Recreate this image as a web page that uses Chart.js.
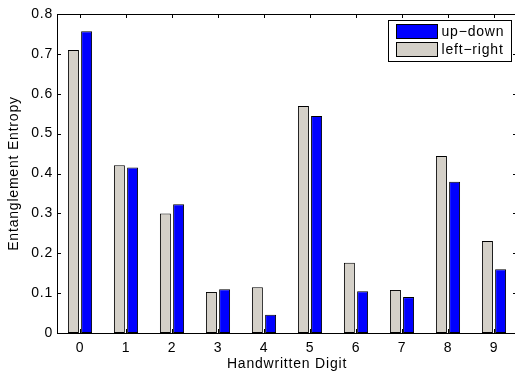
<!DOCTYPE html>
<html>
<head>
<meta charset="utf-8">
<script src="https://cdn.jsdelivr.net/npm/chart.js@4/dist/chart.umd.min.js"></script>
<style>
  html, body { margin: 0; padding: 0; background: #fff; overflow: hidden; }
  canvas { display: block; }
</style>
</head>
<body>
<canvas id="c" width="520" height="375"></canvas>
<script>
// Handwritten digits and the entanglement entropy of each bipartition
const digits = ['0', '1', '2', '3', '4', '5', '6', '7', '8', '9'];
const leftRight = [0.710, 0.421, 0.300, 0.103, 0.115, 0.569, 0.176, 0.108, 0.444, 0.231];
const upDown    = [0.757, 0.415, 0.323, 0.110, 0.046, 0.544, 0.105, 0.090, 0.379, 0.160];
const yTickLabels = ['0', '0.1', '0.2', '0.3', '0.4', '0.5', '0.6', '0.7', '0.8'];

const FONT = '"Liberation Sans", Arial, Helvetica, sans-serif';
const SIZE = 14;
const GREY = 'rgb(212,208,200)';
const BLUE = 'rgb(0,0,255)';
const SPACING = '0.8px';

// Slightly tracked-out lettering for all text on the canvas
const tracking = {
  id: 'tracking',
  beforeInit(chart) { chart.ctx.letterSpacing = SPACING; },
  beforeLayout(chart) { chart.ctx.letterSpacing = SPACING; },
  beforeDraw(chart) { chart.ctx.letterSpacing = SPACING; }
};

// Axes box with inward-pointing ticks on all four sides
const boxAndTicks = {
  id: 'boxAndTicks',
  afterDatasetsDraw(chart) {
    const { ctx, chartArea: a, scales: { x, y } } = chart;
    const len = 4;
    ctx.save();
    ctx.strokeStyle = '#000';
    ctx.lineWidth = 1;
    ctx.beginPath();
    x.ticks.forEach((t, i) => {
      const px = Math.round(x.getPixelForTick(i)) + 0.5;
      ctx.moveTo(px, a.bottom); ctx.lineTo(px, a.bottom - len);
      ctx.moveTo(px, a.top); ctx.lineTo(px, a.top + len);
    });
    y.ticks.forEach((t, i) => {
      const py = Math.round(y.getPixelForTick(i)) + 0.5;
      ctx.moveTo(a.left, py); ctx.lineTo(a.left + len, py);
      ctx.moveTo(a.right, py); ctx.lineTo(a.right - len, py);
    });
    ctx.stroke();
    ctx.strokeRect(a.left + 0.5, a.top + 0.5, a.right - a.left, a.bottom - a.top);
    ctx.restore();
  }
};

// Boxed legend in the upper-right corner of the axes, last series listed first
const boxLegend = {
  id: 'boxLegend',
  afterDraw(chart) {
    const { ctx, chartArea: a } = chart;
    const items = chart.data.datasets.slice().reverse();
    const boxW = 123, rowH = 18;
    const boxH = items.length * rowH + 5;
    const bx = Math.round(a.right - 6 - boxW) + 0.5;
    const by = Math.round(a.top + 6) + 0.5;
    ctx.save();
    ctx.letterSpacing = SPACING;
    ctx.fillStyle = '#fff';
    ctx.fillRect(bx, by, boxW, boxH);
    ctx.strokeStyle = '#000';
    ctx.lineWidth = 1;
    ctx.strokeRect(bx, by, boxW, boxH);
    ctx.font = SIZE + 'px ' + FONT;
    ctx.textBaseline = 'middle';
    items.forEach((ds, i) => {
      const sy = by + 4 + i * rowH;
      ctx.fillStyle = ds.backgroundColor;
      ctx.fillRect(bx + 8, sy, 41, 14);
      ctx.strokeStyle = '#000';
      ctx.strokeRect(bx + 8, sy, 41, 14);
      ctx.fillStyle = '#000';
      ctx.fillText(ds.label, bx + 53, sy + 7.5);
    });
    ctx.restore();
  }
};

new Chart(document.getElementById('c'), {
  type: 'bar',
  data: {
    labels: digits,
    datasets: [
      { label: 'left\u2212right', data: leftRight, backgroundColor: GREY, borderColor: '#000', borderWidth: 1, borderSkipped: false },
      { label: 'up\u2212down', data: upDown, backgroundColor: BLUE, borderColor: '#000', borderWidth: 1, borderSkipped: false }
    ]
  },
  options: {
    responsive: false,
    devicePixelRatio: 1,
    animation: false,
    categoryPercentage: 0.574,
    barPercentage: 0.83,
    layout: { padding: { top: 14, right: 3, left: 0, bottom: 0 } },
    plugins: {
      legend: { display: false },
      tooltip: { enabled: false }
    },
    scales: {
      x: {
        offset: true,
        grid: { display: false, drawTicks: false },
        border: { display: false },
        ticks: { color: '#000', font: { family: FONT, size: SIZE }, padding: 7 },
        title: { display: true, text: 'Handwritten Digit', color: '#000', font: { family: FONT, size: SIZE }, padding: { top: 0, bottom: 2 } },
        afterFit(s) { s.height = 42; }
      },
      y: {
        min: 0,
        max: 0.8,
        grid: { display: false, drawTicks: false },
        border: { display: false },
        ticks: {
          stepSize: 0.1,
          color: '#000',
          font: { family: FONT, size: SIZE },
          padding: 4,
          callback: (v, i) => yTickLabels[i]
        },
        title: { display: true, text: 'Entanglement Entropy', color: '#000', font: { family: FONT, size: SIZE }, padding: { top: 6, bottom: 0 } },
        afterFit(s) { s.width = 57; }
      }
    }
  },
  plugins: [tracking, boxAndTicks, boxLegend]
});
</script>
</body>
</html>
